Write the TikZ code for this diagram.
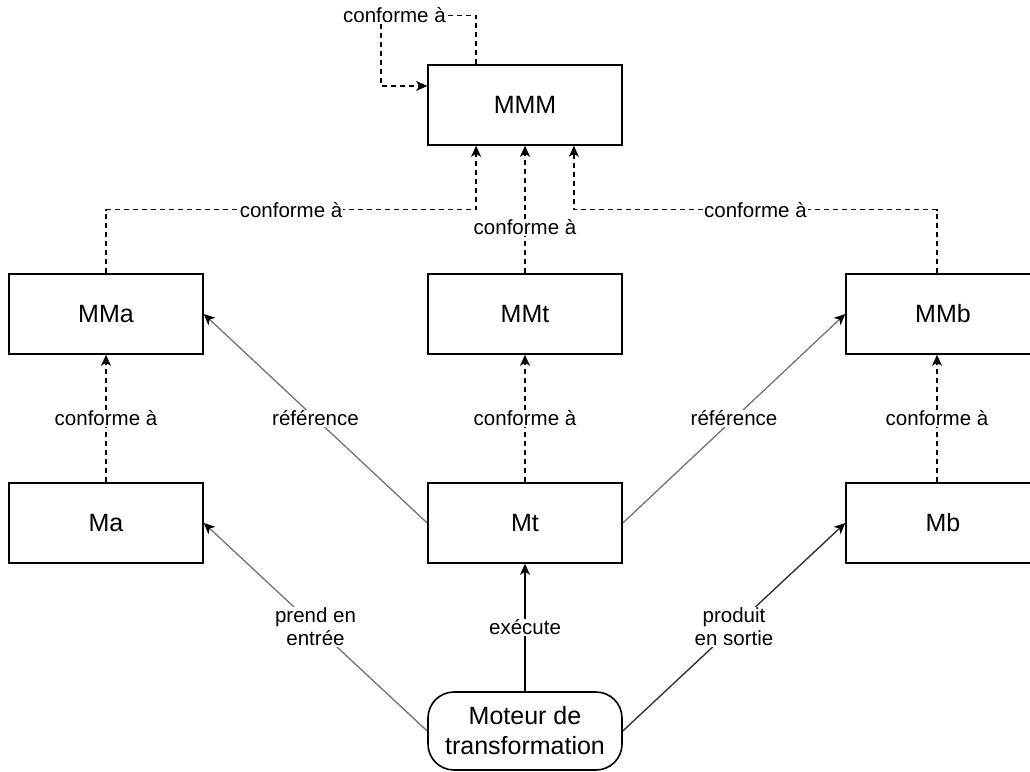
\documentclass[tikz,border=0pt]{standalone}
\usepackage{fontspec}
\setmainfont{Liberation Sans}
\usetikzlibrary{arrows.meta,calc}
\begin{document}
\begin{tikzpicture}[x=1pt,y=-1pt,
  box/.style={draw=black, line width=1.6pt, minimum width=194pt, minimum height=80pt,
    inner sep=0pt, font=\fontsize{25}{30}\selectfont},
  engine/.style={box, rounded corners=26pt, minimum height=78pt, align=center},
  lbl/.style={fill=white, inner sep=1pt, font=\fontsize{20.5}{23}\selectfont, align=center, text=black},
  tip/.style={-{Stealth[length=11pt,width=10pt,inset=3pt,color=black]}},
  dep/.style={tip, draw=black, line width=1.3pt, dash pattern=on 5pt off 4pt},
  refline/.style={tip, draw=black!55, line width=1.3pt},
  exeline/.style={tip, draw=black, line width=1.6pt},
  outline/.style={tip, draw=black!80, line width=1.4pt}]
\useasboundingbox (0,0) rectangle (1030,771);
\clip (0,0) rectangle (1030,771);
% nodes
\node[box] (MMM) at (525,105) {MMM};
\node[box] (MMa) at (106,314) {MMa};
\node[box] (MMt) at (525,314) {MMt};
\node[box] (MMb) at (943,314) {MMb};
\node[box] (Ma) at (106,523) {Ma};
\node[box] (Mt) at (525,523) {Mt};
\node[box] (Mb) at (943,523) {Mb};
\node[engine] (Mot) at (525,731) {Moteur de\\transformation};
% helper anchors
\coordinate (sL) at ($(MMM.south west)!0.25!(MMM.south east)$);
\coordinate (sR) at ($(MMM.south west)!0.75!(MMM.south east)$);
\coordinate (nL) at ($(MMM.north west)!0.25!(MMM.north east)$);
\coordinate (wU) at ([yshift=19pt]MMM.west);
% conforme à (dashed)
\draw[dep] (nL) -- ++(0,-49) -- node[lbl, pos=0.86]{conforme à} ++(-95,0) |- (wU);
\draw[dep] (MMa.north) |- node[lbl, pos=0.75]{conforme à} ([yshift=-64pt]sL) -- (sL);
\draw[dep] ([xshift=-6pt]MMb.north) |- node[lbl, pos=0.75]{conforme à} ([yshift=-64pt]sR) -- (sR);
\draw[dep] (MMt.north) -- node[lbl, pos=0.36]{conforme à} (MMM.south);
\draw[dep] (Ma.north) -- node[lbl]{conforme à} (MMa.south);
\draw[dep] (Mt.north) -- node[lbl]{conforme à} (MMt.south);
\draw[dep] ([xshift=-6pt]Mb.north) -- node[lbl]{conforme à} ([xshift=-6pt]MMb.south);
% référence
\draw[refline] (Mt.west) -- node[lbl]{référence} (MMa.east);
\draw[refline] (Mt.east) -- node[lbl]{référence} (MMb.west);
% engine
\draw[refline] (Mot.west) -- node[lbl]{prend en\\entrée} (Ma.east);
\draw[exeline] (Mot.north) -- node[lbl]{exécute} (Mt.south);
\draw[outline] (Mot.east) -- node[lbl]{produit\\en sortie} (Mb.west);
\end{tikzpicture}
\end{document}
